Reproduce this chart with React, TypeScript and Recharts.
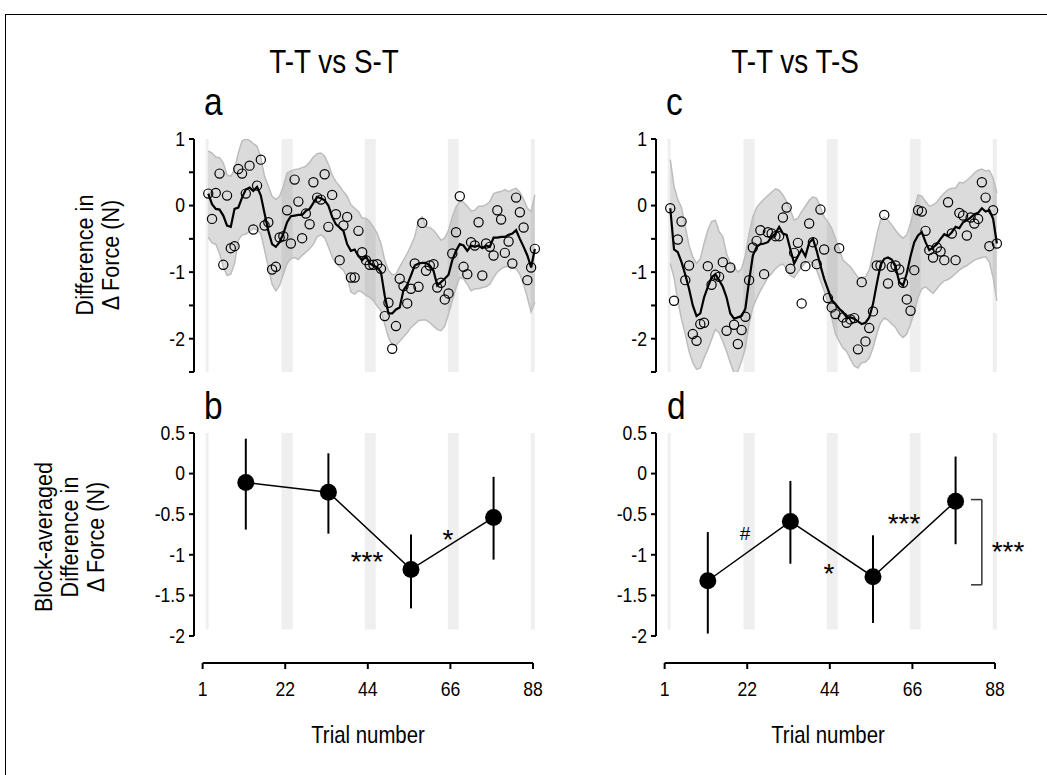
import React from 'react';
import {
  ComposedChart,
  Line,
  Area,
  Scatter,
  XAxis,
  YAxis,
  ReferenceArea,
  ReferenceLine,
  ErrorBar,
} from 'recharts';

const FONT = '"Liberation Sans", Arial, Helvetica, sans-serif';

// ---------- Panel a (T-T vs S-T), trial-by-trial ----------
const SCATTER_A = [
  0.18, -0.2, 0.19, 0.48, -0.89, 0.15, -0.64, -0.61, 0.55, 0.48,
  0.18, 0.6, -0.36, 0.3, 0.69, -0.3, -0.25, -0.96, -0.92, -0.48,
  -0.46, -0.07, -0.57, 0.39, 0.06, -0.49, -0.12, -0.28, 0.35, 0.12,
  0.09, 0.47, -0.32, 0.16, -0.13, -0.82, -0.3, -0.17, -1.08, -1.08,
  -0.38, -0.7, -0.82, -0.89, -0.89, -0.88, -0.95, -1.66, -1.46, -2.15,
  -1.81, -1.1, -1.21, -1.47, -1.25, -0.87, -1.22, -0.26, -0.98, -0.9,
  -0.88, -1.23, -1.16, -1.41, -1.32, -0.72, -0.4, 0.14, -0.92, -1.03,
  -0.55, -0.6, -0.25, -1.05, -0.57, -0.62, -0.75, -0.07, -0.21, -0.71,
  -0.54, -0.87, 0.12, -0.1, -0.33, -1.12, -0.93, -0.65,
];
const LINE_A = [
  0.18, 0.02, -0.05, -0.06, -0.15, -0.3, -0.32, -0.05, -0.03, 0.12,
  0.24, 0.27, 0.22, 0.28, 0.15, -0.12, -0.38, -0.58, -0.62, -0.55,
  -0.42, -0.25, -0.16, -0.15, -0.14, -0.14, -0.08, -0.05, 0.04, 0.13,
  0.11, 0.08, 0.0, -0.17, -0.28, -0.33, -0.38, -0.58, -0.68, -0.66,
  -0.76, -0.82, -0.76, -0.87, -0.9, -0.93, -1.0, -1.35, -1.62, -1.62,
  -1.56, -1.53, -1.27, -1.19, -1.05, -0.9, -0.87, -0.86, -0.86, -0.9,
  -0.98, -1.2, -1.15, -1.1, -1.04, -0.82, -0.68, -0.58, -0.6, -0.68,
  -0.6, -0.62, -0.6, -0.64, -0.6, -0.62, -0.48, -0.48, -0.47, -0.47,
  -0.44, -0.42, -0.37, -0.5, -0.62, -0.75, -0.93, -0.65,
];
const UPPER_A = [
  0.82, 0.79, 0.73, 0.72, 0.64, 0.46, 0.44, 0.54, 0.79, 0.97,
  1.0, 0.98, 0.93, 0.89, 0.72, 0.44, 0.29, 0.14, 0.09, 0.14,
  0.29, 0.49, 0.52, 0.54, 0.55, 0.57, 0.59, 0.65, 0.73, 0.78,
  0.79, 0.74, 0.62, 0.46, 0.36, 0.29, 0.21, 0.14, 0.01, -0.04,
  -0.09, -0.19, -0.19, -0.24, -0.32, -0.42, -0.57, -0.82, -0.97, -1.04,
  -1.03, -0.92, -0.82, -0.72, -0.6, -0.47, -0.22, -0.17, -0.32, -0.33,
  -0.37, -0.44, -0.52, -0.49, -0.37, -0.17, -0.02, 0.06, 0.05, -0.01,
  -0.08, -0.07, -0.01, -0.01, 0.01, 0.06, 0.18, 0.2, 0.21, 0.24,
  0.21, 0.24, 0.26, 0.2, 0.09, -0.04, -0.09, 0.16,
];
const LOWER_A = [
  -0.48, -0.56, -0.58, -0.72, -0.92, -1.05, -1.03, -0.87, -0.52, -0.44,
  -0.43, -0.39, -0.34, -0.37, -0.42, -0.67, -0.92, -1.18, -1.28, -1.2,
  -1.03, -0.87, -0.8, -0.78, -0.81, -0.75, -0.7, -0.65, -0.58, -0.47,
  -0.44, -0.48, -0.62, -0.77, -0.87, -0.92, -0.97, -1.08, -1.3, -1.33,
  -1.28, -1.3, -1.35, -1.38, -1.43, -1.51, -1.58, -1.78, -1.98, -2.09,
  -2.1, -2.04, -1.97, -1.91, -1.83, -1.78, -1.73, -1.72, -1.72, -1.76,
  -1.81, -1.86, -1.88, -1.81, -1.63, -1.43, -1.23, -1.08, -1.1, -1.18,
  -1.28, -1.25, -1.25, -1.23, -1.22, -1.18, -1.08, -1.0, -0.95, -0.92,
  -0.92, -0.92, -0.95, -1.03, -1.18, -1.38, -1.6, -1.45,
];

// ---------- Panel c (T-T vs T-S), trial-by-trial ----------
const SCATTER_C = [
  -0.04, -1.43, -0.51, -0.24, -1.12, -0.9, -1.93, -2.03, -1.78, -1.76,
  -0.91, -1.19, -1.04, -1.07, -0.85, -1.88, -0.93, -1.79, -2.08, -1.87,
  -1.67, -1.12, -0.63, -0.53, -0.37, -1.03, -0.4, -0.42, -0.46, -0.46,
  -0.18, -0.03, -0.95, -0.71, -0.56, -1.47, -0.91, -0.27, -0.55, -0.88,
  -0.06, -0.66, -1.39, -1.53, -1.63, -0.64, -1.68, -1.76, -1.71, -1.69,
  -2.16, -1.15, -2.04, -1.84, -1.59, -0.9, -0.9, -0.14, -1.17, -0.92,
  -0.9, -0.96, -1.16, -1.41, -1.58, -0.97, -0.07, -0.09, -0.38, -0.67,
  -0.78, -0.63, -0.69, -0.82, 0.05, -0.42, -0.82, -0.11, -0.15, -0.45,
  -0.18, -0.27, -0.2, 0.35, 0.12, -0.61, -0.07, -0.57,
];
const LINE_C = [
  -0.04, -0.66, -0.7, -0.85, -1.04, -1.25, -1.5, -1.66, -1.62, -1.38,
  -1.22, -1.08, -1.03, -1.12, -1.22, -1.38, -1.62, -1.7, -1.68, -1.66,
  -1.55, -1.13, -0.75, -0.62, -0.58, -0.57, -0.55, -0.47, -0.42, -0.32,
  -0.42, -0.44, -0.66, -0.87, -0.76, -0.66, -0.76, -0.56, -0.5, -0.68,
  -0.9, -1.1, -1.26, -1.42, -1.48, -1.55, -1.6, -1.68, -1.68, -1.7,
  -1.74, -1.78, -1.76, -1.68, -1.48, -1.18, -0.9, -0.8, -0.78, -0.81,
  -0.92, -1.15, -1.2, -1.02, -0.76, -0.55, -0.45, -0.4, -0.55, -0.67,
  -0.63, -0.58, -0.5, -0.43, -0.46, -0.4, -0.32, -0.34, -0.25, -0.22,
  -0.18, -0.13, -0.11, -0.04, -0.09, -0.07, -0.2, -0.57,
];
const UPPER_C = [
  0.69, 0.29, 0.09, -0.03, -0.32, -0.6, -0.77, -0.87, -0.8, -0.57,
  -0.37, -0.24, -0.22, -0.39, -0.47, -0.72, -0.87, -0.92, -1.0, -0.95,
  -0.75, -0.42, -0.17, -0.03, 0.04, 0.1, 0.15, 0.2, 0.25, 0.23,
  0.16, 0.06, -0.07, -0.22, -0.19, -0.09, -0.01, 0.08, 0.13, 0.11,
  -0.03, -0.17, -0.24, -0.34, -0.49, -0.65, -0.82, -0.87, -0.92, -1.0,
  -1.08, -1.08, -1.07, -0.97, -0.72, -0.44, -0.22, -0.17, -0.22, -0.29,
  -0.37, -0.44, -0.49, -0.44, -0.27, -0.04, 0.16, 0.14, 0.06, -0.01,
  0.01, 0.05, 0.13, 0.19, 0.24, 0.26, 0.26, 0.35, 0.34, 0.38,
  0.43, 0.49, 0.53, 0.55, 0.52, 0.53, 0.41, 0.19,
];
const LOWER_C = [
  -0.87, -1.08, -1.43, -1.71, -1.93, -2.19, -2.36, -2.46, -2.44, -2.29,
  -2.16, -2.01, -1.86, -1.91, -2.04, -2.19, -2.36, -2.52, -2.49, -2.34,
  -2.14, -1.78, -1.53, -1.4, -1.28, -1.18, -1.08, -1.02, -0.95, -0.9,
  -0.88, -0.95, -1.05, -1.08, -1.0, -0.92, -0.86, -0.83, -0.87, -0.97,
  -1.13, -1.28, -1.45, -1.68, -1.93, -2.04, -2.14, -2.19, -2.31, -2.41,
  -2.44, -2.36, -2.35, -2.29, -2.14, -1.93, -1.76, -1.69, -1.72, -1.78,
  -1.83, -1.93, -1.98, -1.93, -1.78, -1.61, -1.38, -1.25, -1.22, -1.27,
  -1.32, -1.25, -1.18, -1.13, -1.11, -1.07, -1.02, -0.97, -0.93, -0.9,
  -0.86, -0.82, -0.8, -0.78, -0.77, -0.85, -1.08, -1.43,
];

// ---------- Block averages (panels b, d) ----------
const BLOCK_T = [11, 33, 55, 77];
const B_MEAN = [-0.11, -0.23, -1.18, -0.54];
const B_HI = [0.43, 0.25, -0.75, -0.04];
const B_LO = [-0.69, -0.74, -1.66, -1.06];
const D_MEAN = [-1.32, -0.59, -1.27, -0.34];
const D_HI = [-0.72, -0.09, -0.76, 0.21];
const D_LO = [-1.97, -1.11, -1.84, -0.87];

// ---------- Axes / shading ----------
const X_DOMAIN: [number, number] = [-2.8, 88.3];
const XTICK_POS = [-0.5, 21.5, 43.5, 65.5, 87.5];
const XTICK_LABELS = ['1', '22', '44', '66', '88'];
const TOP_TICKS = [-2.5, -2, -1.5, -1, -0.5, 0, 0.5, 1];
const BOTTOM_TICKS = [-2, -1.5, -1, -0.5, 0, 0.5];
const BAND_X1 = [0.3, 20.5, 42.7, 64.8, 86.9];
const BAND_X2 = [1.1, 23.5, 45.6, 67.7, 88.0];

function buildSeries(scatter: number[], line: number[], upper: number[], lower: number[]) {
  return scatter.map((s, i) => ({ t: i + 1, s, m: line[i], band: [lower[i], upper[i]] }));
}
function buildBlocks(mean: number[], hi: number[], lo: number[]) {
  return BLOCK_T.map((t, i) => ({ t, v: mean[i], err: [mean[i] - lo[i], hi[i] - mean[i]] }));
}

const DATA_A = buildSeries(SCATTER_A, LINE_A, UPPER_A, LOWER_A);
const DATA_C = buildSeries(SCATTER_C, LINE_C, UPPER_C, LOWER_C);
const DATA_B = buildBlocks(B_MEAN, B_HI, B_LO);
const DATA_D = buildBlocks(D_MEAN, D_HI, D_LO);

const SQUEEZE = 0.88;

const circleShape = (p: any) => (
  <circle cx={p.cx} cy={p.cy} r={4.6} fill="none" stroke="#000" strokeWidth={1.2} />
);

const YTick = (fmt: (v: number) => string) => (p: any) => (
  <g transform={`translate(${p.x},${p.y}) scale(${SQUEEZE},1)`}>
    <text x={0} y={0} textAnchor="end" dominantBaseline="central" fontSize={20} fontFamily={FONT} fill="#000">
      {fmt(p.payload.value)}
    </text>
  </g>
);
const XTick = (p: any) => (
  <g transform={`translate(${p.x},${p.y}) scale(${SQUEEZE},1)`}>
    <text x={0} y={0} dy="0.71em" textAnchor="middle" fontSize={20} fontFamily={FONT} fill="#000">
      {XTICK_LABELS[XTICK_POS.indexOf(p.payload.value)]}
    </text>
  </g>
);

const topFmt = (v: number) => (Number.isInteger(v) ? String(v) : '');
const botFmt = (v: number) => String(v);

function TopPanel({ left, data }: { left: number; data: any[] }) {
  return (
    <div style={{ position: 'absolute', left, top: 129 }}>
      <ComposedChart width={422} height={253} data={data} margin={{ top: 10, right: 10, bottom: 10, left: 0 }}>
        <XAxis dataKey="t" type="number" domain={X_DOMAIN} hide />
        <YAxis
          type="number"
          domain={[-2.5, 1]}
          ticks={TOP_TICKS}
          interval={0}
          allowDataOverflow
          width={70}
          axisLine={{ stroke: '#000', strokeWidth: 2 }}
          tickLine={{ stroke: '#000', strokeWidth: 2 }}
          tickSize={5}
          tickMargin={4}
          tick={YTick(topFmt)}
        />
        {BAND_X1.map((x1, i) => (
          <ReferenceArea key={i} x1={x1} x2={BAND_X2[i]} y1={-2.5} y2={1} fill="#000" fillOpacity={0.063} stroke="none" ifOverflow="visible" />
        ))}
        <Area dataKey="band" type="linear" fill="#000" fillOpacity={0.14} stroke="#bdbdbd" strokeWidth={1.5} isAnimationActive={false} />
        <Line dataKey="m" type="linear" stroke="#000" strokeWidth={2.2} dot={false} isAnimationActive={false} />
        <Scatter dataKey="s" shape={circleShape} isAnimationActive={false} />
      </ComposedChart>
    </div>
  );
}

function BottomPanel({ left, data, children }: { left: number; data: any[]; children?: React.ReactNode }) {
  return (
    <div style={{ position: 'absolute', left, top: 423 }}>
      <ComposedChart width={422} height={285} data={data} margin={{ top: 10, right: 10, bottom: 0, left: 0 }}>
        <XAxis
          dataKey="t"
          type="number"
          domain={X_DOMAIN}
          ticks={XTICK_POS}
          interval={0}
          axisLine={false}
          tickLine={{ stroke: '#000', strokeWidth: 2 }}
          tickSize={6}
          tickMargin={13}
          height={45}
          tick={XTick}
        />
        <YAxis
          type="number"
          domain={[-2.333, 0.5]}
          ticks={BOTTOM_TICKS}
          interval={0}
          allowDataOverflow
          width={70}
          axisLine={false}
          tickLine={{ stroke: '#000', strokeWidth: 2 }}
          tickSize={5}
          tickMargin={4}
          tick={YTick(botFmt)}
        />
        {BAND_X1.map((x1, i) => (
          <ReferenceArea key={i} x1={x1} x2={BAND_X2[i]} y1={-1.92} y2={0.5} fill="#000" fillOpacity={0.063} stroke="none" ifOverflow="visible" />
        ))}
        <ReferenceLine segment={[{ x: X_DOMAIN[0], y: -2 }, { x: X_DOMAIN[0], y: 0.5 }]} stroke="#000" strokeWidth={2} ifOverflow="visible" />
        <ReferenceLine segment={[{ x: XTICK_POS[0], y: -2.333 }, { x: XTICK_POS[4], y: -2.333 }]} stroke="#000" strokeWidth={2} ifOverflow="visible" />
        {children}
        <Line dataKey="v" type="linear" stroke="#000" strokeWidth={1.5} dot={{ r: 8.5, fill: '#000', stroke: '#000', strokeWidth: 0 }} isAnimationActive={false}>
          <ErrorBar dataKey="err" direction="y" width={0} stroke="#000" strokeWidth={2} isAnimationActive={false} />
        </Line>
      </ComposedChart>
    </div>
  );
}

const RIGHT_SHIFT = 462;

const Sq = ({ x, y, rot, size, children, anchor = 'middle', s = SQUEEZE }: any) => (
  <g transform={`translate(${x},${y})${rot ? ' rotate(-90)' : ''} scale(${s},1)`}>
    <text x={0} y={0} fontSize={size} textAnchor={anchor} dominantBaseline={rot ? 'central' : 'auto'}>
      {children}
    </text>
  </g>
);

export default function App() {
  return (
    <div style={{ position: 'fixed', left: 0, top: 0, width: 1047, height: 775, overflow: 'hidden', background: '#fff', fontFamily: FONT }}>
      <div style={{ position: 'absolute', left: 5, top: 14, width: 1100, height: 800, border: '1px solid #000' }} />
      <TopPanel left={124} data={DATA_A} />
      <TopPanel left={124 + RIGHT_SHIFT} data={DATA_C} />
      <BottomPanel left={124} data={DATA_B} />
      <BottomPanel left={124 + RIGHT_SHIFT} data={DATA_D}>
        <ReferenceLine segment={[{ x: 81.1, y: -0.32 }, { x: 84, y: -0.32 }]} stroke="#333" strokeWidth={1.5} ifOverflow="visible" />
        <ReferenceLine segment={[{ x: 84, y: -0.32 }, { x: 84, y: -1.37 }]} stroke="#333" strokeWidth={1.5} ifOverflow="visible" />
        <ReferenceLine segment={[{ x: 81.1, y: -1.37 }, { x: 84, y: -1.37 }]} stroke="#333" strokeWidth={1.5} ifOverflow="visible" />
      </BottomPanel>
      <svg width={1047} height={775} style={{ position: 'absolute', left: 0, top: 0, pointerEvents: 'none' }} fontFamily={FONT} fill="#000">
        <Sq x={334} y={73} size={34} s={0.82}>T-T vs S-T</Sq>
        <Sq x={795} y={73} size={34} s={0.82}>T-T vs T-S</Sq>
        <Sq x={204} y={115} size={38} anchor="start">a</Sq>
        <Sq x={666} y={115} size={38} anchor="start">c</Sq>
        <Sq x={204} y={419} size={38} anchor="start">b</Sq>
        <Sq x={667} y={419} size={38} anchor="start">d</Sq>
        <Sq x={85} y={255} rot size={24} s={0.9}>Difference in</Sq>
        <Sq x={111} y={255} rot size={24} s={0.9}>Δ Force (N)</Sq>
        <Sq x={44} y={537} rot size={24} s={0.9}>Block-averaged</Sq>
        <Sq x={70} y={537} rot size={24} s={0.9}>Difference in</Sq>
        <Sq x={96} y={537} rot size={24} s={0.9}>Δ Force (N)</Sq>
        <Sq x={368} y={743} size={24} s={0.85}>Trial number</Sq>
        <Sq x={828} y={743} size={24} s={0.85}>Trial number</Sq>
        <text x={367} y={571} fontSize={28} textAnchor="middle">***</text>
        <text x={448} y={549} fontSize={28} textAnchor="middle">*</text>
        <text x={745} y={540} fontSize={19} textAnchor="middle">#</text>
        <text x={829} y={583} fontSize={28} textAnchor="middle">*</text>
        <text x={904} y={533} fontSize={28} textAnchor="middle">***</text>
        <text x={1008} y={561} fontSize={28} textAnchor="middle">***</text>
      </svg>
    </div>
  );
}
